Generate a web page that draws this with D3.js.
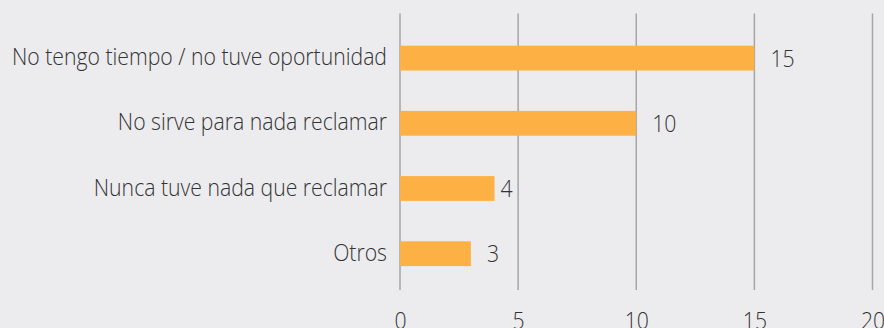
<!DOCTYPE html>
<html>
<head>
<meta charset="utf-8">
<script src="https://cdn.jsdelivr.net/npm/d3@7"></script>
<style>
  html, body { margin: 0; padding: 0; background: #ECECEF; }
  svg { display: block; }
  text { font-family: "Open Sans", sans-serif; font-weight: 300; fill: #333; }
</style>
</head>
<body>
<svg id="chart" width="884" height="328"></svg>
<script>
// Motivos para no reclamar
const categories = [
  "No tengo tiempo / no tuve oportunidad",
  "No sirve para nada reclamar",
  "Nunca tuve nada que reclamar",
  "Otros"
];
const values = [15, 10, 4, 3];
const tickValues = [0, 5, 10, 15, 20];
// small horizontal nudges for the value labels
const labelDx = [16, 16, 6, 16];

const svg = d3.select("#chart");
const fontSize = 23;

const x = d3.scaleLinear().domain([0, 20]).range([400, 872.5]);
const y = d3.scaleBand()
  .domain(categories)
  .range([25.5, 286.3])
  .paddingInner(0.62)
  .paddingOuter(0.31);

// vertical gridlines
svg.append("g")
  .selectAll("line")
  .data(tickValues)
  .join("line")
  .attr("x1", d => x(d)).attr("x2", d => x(d))
  .attr("y1", 13.5).attr("y2", 290)
  .attr("stroke", "#a6a6a6")
  .attr("stroke-width", 1.5);

// bottom tick labels via d3 axis
const xAxis = svg.append("g")
  .attr("transform", "translate(0,312)")
  .call(d3.axisBottom(x).tickValues(tickValues).tickSize(0).tickPadding(0));
xAxis.select(".domain").remove();
xAxis.selectAll("text")
  .attr("dy", null)
  .attr("y", 17)
  .attr("fill", "#333")
  .style("font-size", fontSize + "px")
  .style("font-family", "'Open Sans', sans-serif")
  .style("font-weight", 300);

// bars
svg.append("g")
  .selectAll("rect")
  .data(values)
  .join("rect")
  .attr("x", x(0))
  .attr("y", (d, i) => y(categories[i]))
  .attr("width", d => x(d) - x(0))
  .attr("height", y.bandwidth())
  .attr("fill", "#FDB043");

// category labels
const catLabels = svg.append("g")
  .selectAll("text")
  .data(categories)
  .join("text")
  .attr("x", 387)
  .attr("y", d => y(d) + y.bandwidth() / 2 + 7)
  .attr("text-anchor", "end")
  .style("font-size", fontSize + "px")
  .text(d => d);

// narrow the labels to the condensed width of the original face
const longest = d3.max(catLabels.nodes(), n => n.getComputedTextLength());
const k = 375 / longest;
catLabels.each(function() {
  const w = this.getComputedTextLength();
  d3.select(this).attr("textLength", w * k).attr("lengthAdjust", "spacingAndGlyphs");
});

// value labels
const valLabels = svg.append("g")
  .selectAll("text")
  .data(values)
  .join("text")
  .attr("x", (d, i) => x(d) + labelDx[i])
  .attr("y", (d, i) => y(categories[i]) + y.bandwidth() / 2 + 8.5)
  .style("font-size", fontSize + "px")
  .text(d => d);
valLabels.each(function() {
  const w = this.getComputedTextLength();
  d3.select(this).attr("textLength", w * k).attr("lengthAdjust", "spacingAndGlyphs");
});
xAxis.selectAll("text").each(function() {
  const w = this.getComputedTextLength();
  d3.select(this).attr("textLength", w * k).attr("lengthAdjust", "spacingAndGlyphs");
});
</script>
</body>
</html>
